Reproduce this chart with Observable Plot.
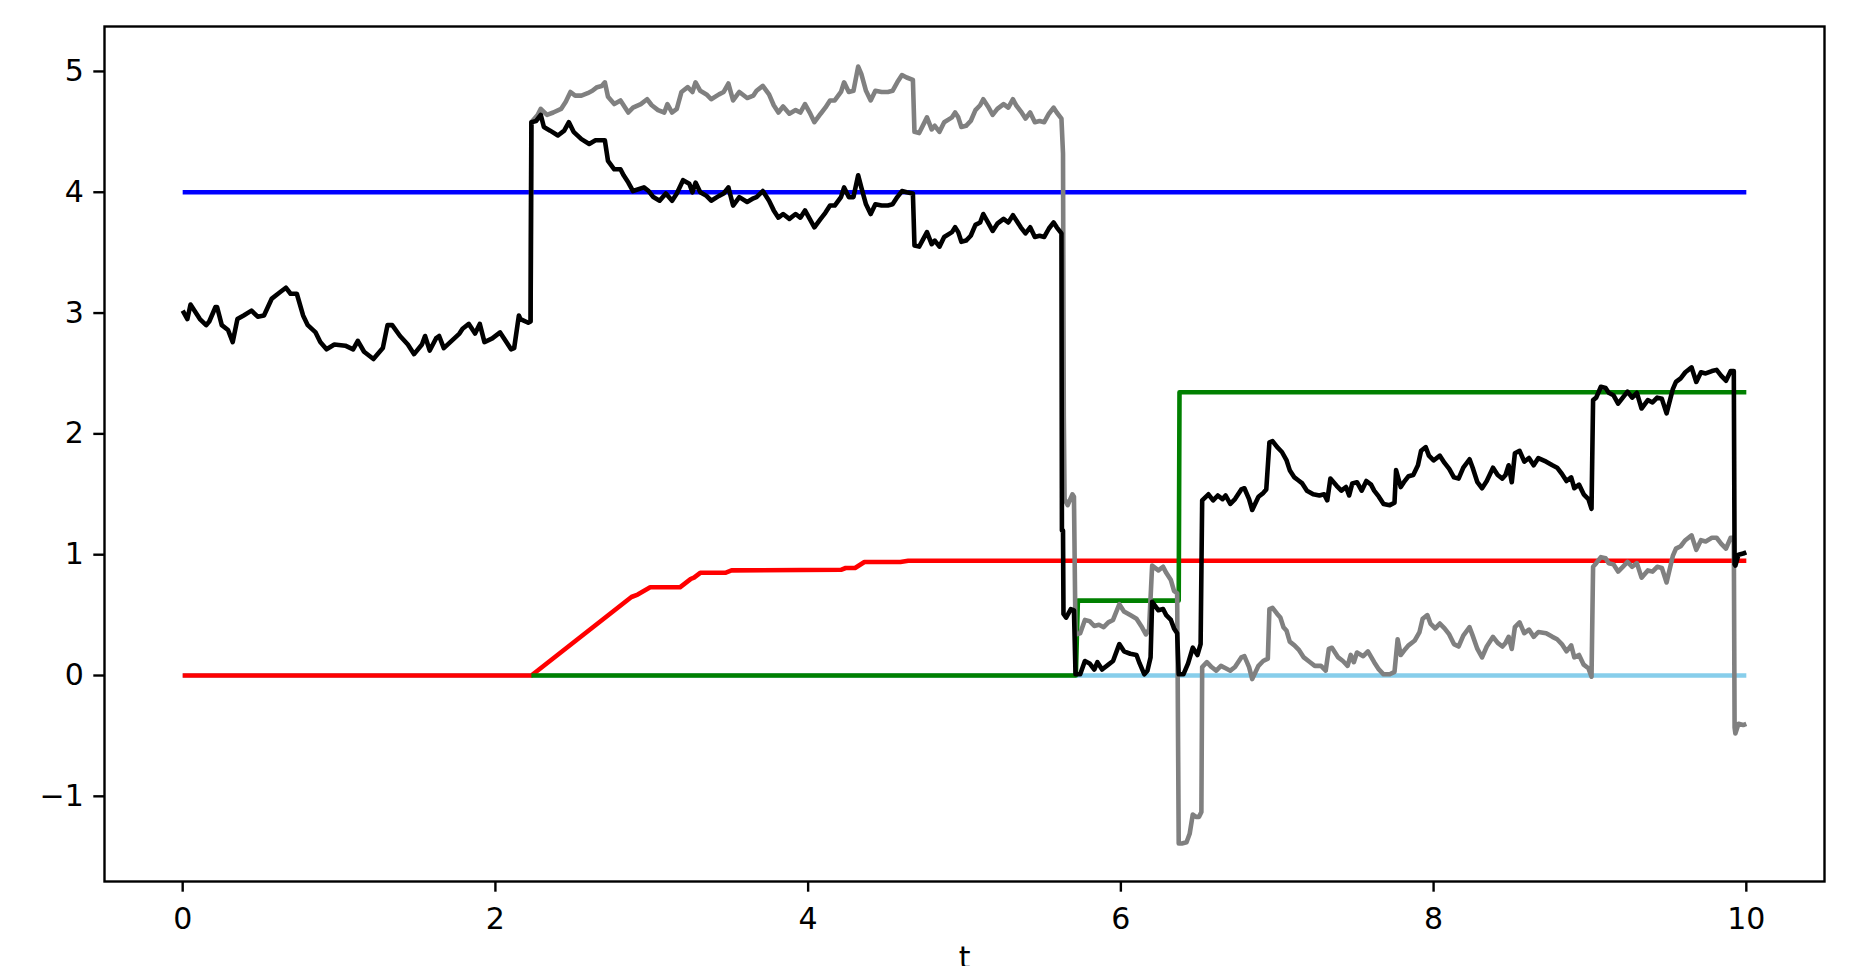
<!DOCTYPE html>
<html>
<head>
<meta charset="utf-8">
<script src="https://cdn.jsdelivr.net/npm/d3@7"></script>
<script src="https://cdn.jsdelivr.net/npm/@observablehq/plot@0.6"></script>
<style>
  html, body { margin: 0; padding: 0; background: #fff; overflow: hidden; }
  #chart svg { display: block; }
  #chart svg text { font-family: "DejaVu Sans", sans-serif; font-size: 30px; }
</style>
</head>
<body>
<div id="chart"></div>
<script>
// ---- data: [t, value] ----
const bluePath = [[0, 4], [10, 4]];
const skybluePath = [[0, 0], [10, 0]];
const redPath = [
  [0, 0], [2.23, 0], [2.87, 0.65], [2.91, 0.67], [2.99, 0.73], [3.18, 0.73], [3.25, 0.80],
  [3.27, 0.81], [3.31, 0.85], [3.47, 0.85], [3.51, 0.87], [4.21, 0.875], [4.24, 0.89],
  [4.30, 0.89], [4.36, 0.94], [4.59, 0.94], [4.64, 0.95], [10, 0.95]
];
const greenPath = [
  [2.23, 0], [5.712, 0], [5.725, 0.62], [6.37, 0.62], [6.375, 2.345], [10, 2.345]
];
const blackPath = [
  [0.00, 3.02], [0.03, 2.95], [0.05, 3.07], [0.08, 3.01], [0.11, 2.95], [0.15, 2.90], [0.17, 2.93],
  [0.21, 3.05], [0.22, 3.05], [0.25, 2.90], [0.29, 2.86], [0.32, 2.76], [0.35, 2.95], [0.39, 2.98],
  [0.44, 3.02], [0.48, 2.97], [0.52, 2.98], [0.57, 3.12], [0.62, 3.17], [0.66, 3.21], [0.69, 3.16],
  [0.73, 3.16], [0.77, 2.98], [0.80, 2.90], [0.85, 2.84], [0.88, 2.76], [0.92, 2.70], [0.97, 2.74],
  [1.04, 2.73], [1.09, 2.70], [1.12, 2.77], [1.16, 2.68], [1.22, 2.62], [1.28, 2.71], [1.31, 2.90],
  [1.34, 2.90], [1.39, 2.81], [1.44, 2.74], [1.48, 2.66], [1.53, 2.74], [1.55, 2.81], [1.58, 2.69],
  [1.62, 2.79], [1.64, 2.81], [1.67, 2.71], [1.72, 2.77], [1.77, 2.83], [1.79, 2.87], [1.83, 2.91],
  [1.87, 2.83], [1.90, 2.91], [1.93, 2.76], [1.98, 2.79], [2.03, 2.84], [2.07, 2.76], [2.10, 2.70],
  [2.12, 2.71], [2.15, 2.98], [2.16, 2.95], [2.21, 2.92], [2.225, 2.93], [2.23, 4.58],
  [2.26, 4.59], [2.29, 4.64], [2.31, 4.54], [2.35, 4.51], [2.40, 4.47], [2.44, 4.51], [2.47, 4.58],
  [2.50, 4.50], [2.55, 4.44], [2.60, 4.40], [2.64, 4.43], [2.67, 4.43], [2.70, 4.43], [2.72, 4.26],
  [2.76, 4.19], [2.80, 4.19], [2.82, 4.14], [2.85, 4.08], [2.88, 4.01], [2.95, 4.04], [2.98, 4.01],
  [3.01, 3.96], [3.05, 3.93], [3.09, 3.99], [3.13, 3.93], [3.16, 3.99], [3.20, 4.10], [3.24, 4.07],
  [3.26, 4.00], [3.28, 4.08], [3.31, 4.00], [3.35, 3.97], [3.38, 3.93], [3.43, 3.97], [3.46, 3.99],
  [3.49, 4.04], [3.52, 3.89], [3.56, 3.96], [3.61, 3.92], [3.65, 3.95], [3.67, 3.96], [3.71, 4.01],
  [3.75, 3.93], [3.78, 3.85], [3.81, 3.79], [3.84, 3.82], [3.88, 3.78], [3.92, 3.82], [3.95, 3.79],
  [3.98, 3.85], [4.01, 3.78], [4.04, 3.71], [4.08, 3.78], [4.11, 3.83], [4.14, 3.89], [4.17, 3.89],
  [4.21, 3.96], [4.23, 4.04], [4.26, 3.96], [4.29, 3.96], [4.32, 4.14], [4.34, 4.04], [4.37, 3.90],
  [4.40, 3.82], [4.43, 3.90], [4.47, 3.89], [4.51, 3.89], [4.54, 3.90], [4.57, 3.96], [4.60, 4.01],
  [4.63, 4.00], [4.67, 3.99], [4.68, 3.56], [4.71, 3.55], [4.76, 3.67], [4.79, 3.57], [4.81, 3.60],
  [4.84, 3.55], [4.87, 3.63], [4.92, 3.67], [4.94, 3.71], [4.96, 3.67], [4.98, 3.59], [5.01, 3.60],
  [5.04, 3.64], [5.07, 3.73], [5.10, 3.75], [5.12, 3.82], [5.15, 3.75], [5.18, 3.68], [5.21, 3.74],
  [5.25, 3.78], [5.28, 3.75], [5.31, 3.81], [5.33, 3.77], [5.36, 3.71], [5.39, 3.66], [5.42, 3.71],
  [5.45, 3.63], [5.48, 3.64], [5.51, 3.63], [5.54, 3.70], [5.57, 3.75], [5.59, 3.71], [5.62, 3.66],
  [5.623, 1.20], [5.63, 1.20], [5.633, 0.51], [5.65, 0.48], [5.68, 0.55], [5.70, 0.54],
  [5.71, 0.01], [5.74, 0.01], [5.77, 0.12], [5.80, 0.10], [5.83, 0.05], [5.85, 0.11], [5.88, 0.05],
  [5.92, 0.09], [5.95, 0.12], [5.99, 0.26], [6.02, 0.20], [6.06, 0.18], [6.10, 0.17], [6.12, 0.10],
  [6.15, 0.01], [6.17, 0.04], [6.19, 0.15], [6.20, 0.61], [6.24, 0.54], [6.27, 0.55], [6.29, 0.50],
  [6.32, 0.46], [6.34, 0.39], [6.36, 0.35], [6.37, 0.01], [6.40, 0.01], [6.43, 0.10], [6.46, 0.23],
  [6.49, 0.17], [6.51, 0.26], [6.52, 1.45], [6.56, 1.50], [6.59, 1.45], [6.62, 1.49], [6.65, 1.46],
  [6.67, 1.49], [6.70, 1.42], [6.73, 1.46], [6.77, 1.54], [6.79, 1.55], [6.82, 1.46], [6.84, 1.37],
  [6.88, 1.48], [6.91, 1.51], [6.93, 1.54], [6.95, 1.93], [6.97, 1.94], [7.00, 1.89], [7.03, 1.85],
  [7.06, 1.78], [7.08, 1.70], [7.11, 1.64], [7.13, 1.62], [7.16, 1.59], [7.19, 1.53], [7.23, 1.50],
  [7.27, 1.49], [7.30, 1.50], [7.32, 1.45], [7.34, 1.63], [7.38, 1.57], [7.41, 1.53], [7.44, 1.56],
  [7.46, 1.49], [7.48, 1.59], [7.51, 1.60], [7.54, 1.53], [7.57, 1.61], [7.60, 1.58], [7.62, 1.53],
  [7.65, 1.48], [7.68, 1.42], [7.72, 1.41], [7.75, 1.43], [7.76, 1.70], [7.79, 1.56], [7.81, 1.60],
  [7.84, 1.65], [7.87, 1.66], [7.90, 1.74], [7.92, 1.86], [7.95, 1.89], [7.97, 1.82], [8.00, 1.78],
  [8.04, 1.82], [8.07, 1.76], [8.10, 1.71], [8.13, 1.64], [8.16, 1.63], [8.19, 1.72], [8.23, 1.79],
  [8.25, 1.72], [8.28, 1.60], [8.31, 1.55], [8.34, 1.61], [8.38, 1.72], [8.41, 1.66], [8.44, 1.63],
  [8.46, 1.66], [8.48, 1.74], [8.50, 1.60], [8.52, 1.84], [8.55, 1.86], [8.58, 1.77], [8.61, 1.80],
  [8.64, 1.74], [8.67, 1.80], [8.72, 1.77], [8.76, 1.74], [8.79, 1.72], [8.82, 1.67], [8.85, 1.61],
  [8.88, 1.64], [8.90, 1.55], [8.93, 1.58], [8.96, 1.50], [8.99, 1.46], [9.01, 1.38], [9.02, 2.28],
  [9.04, 2.30], [9.07, 2.39], [9.10, 2.38], [9.12, 2.34], [9.15, 2.32], [9.18, 2.25], [9.21, 2.30],
  [9.24, 2.35], [9.27, 2.30], [9.30, 2.34], [9.33, 2.21], [9.37, 2.28], [9.40, 2.26], [9.43, 2.30],
  [9.46, 2.29], [9.49, 2.17], [9.53, 2.37], [9.55, 2.43], [9.58, 2.46], [9.61, 2.51], [9.65, 2.55],
  [9.68, 2.43], [9.71, 2.51], [9.74, 2.50], [9.78, 2.52], [9.81, 2.53], [9.84, 2.48], [9.87, 2.44],
  [9.90, 2.52], [9.92, 2.52], [9.925, 0.92], [9.93, 0.91], [9.95, 1.00], [9.98, 1.01], [10.00, 1.02]
];
const grayPath = [
  [2.225, 2.93], [2.23, 4.58], [2.27, 4.64], [2.29, 4.69], [2.33, 4.64], [2.37, 4.66], [2.42, 4.69],
  [2.45, 4.75], [2.48, 4.83], [2.51, 4.80], [2.55, 4.80], [2.59, 4.82], [2.62, 4.84], [2.65, 4.87],
  [2.68, 4.88], [2.70, 4.91], [2.72, 4.79], [2.76, 4.73], [2.80, 4.76], [2.83, 4.70], [2.85, 4.66],
  [2.88, 4.70], [2.93, 4.73], [2.97, 4.77], [3.00, 4.72], [3.04, 4.68], [3.08, 4.66], [3.10, 4.73],
  [3.13, 4.66], [3.16, 4.69], [3.19, 4.83], [3.23, 4.87], [3.26, 4.83], [3.28, 4.91], [3.31, 4.84],
  [3.35, 4.81], [3.38, 4.77], [3.43, 4.81], [3.46, 4.83], [3.49, 4.90], [3.52, 4.76], [3.56, 4.83],
  [3.61, 4.78], [3.65, 4.80], [3.67, 4.84], [3.71, 4.88], [3.75, 4.81], [3.78, 4.72], [3.81, 4.66],
  [3.84, 4.71], [3.88, 4.65], [3.92, 4.68], [3.95, 4.66], [3.98, 4.73], [4.01, 4.66], [4.04, 4.58],
  [4.08, 4.65], [4.11, 4.70], [4.14, 4.76], [4.17, 4.76], [4.21, 4.83], [4.23, 4.91], [4.26, 4.83],
  [4.29, 4.84], [4.32, 5.04], [4.34, 4.98], [4.37, 4.84], [4.40, 4.76], [4.43, 4.84], [4.47, 4.83],
  [4.51, 4.83], [4.54, 4.84], [4.57, 4.91], [4.60, 4.97], [4.63, 4.95], [4.67, 4.93], [4.68, 4.50],
  [4.71, 4.49], [4.76, 4.62], [4.79, 4.52], [4.81, 4.55], [4.84, 4.50], [4.87, 4.58], [4.92, 4.62],
  [4.94, 4.66], [4.96, 4.62], [4.98, 4.54], [5.01, 4.55], [5.04, 4.59], [5.07, 4.68], [5.10, 4.72],
  [5.12, 4.77], [5.15, 4.71], [5.18, 4.64], [5.21, 4.69], [5.25, 4.73], [5.28, 4.70], [5.31, 4.77],
  [5.33, 4.72], [5.36, 4.67], [5.39, 4.61], [5.42, 4.66], [5.45, 4.58], [5.48, 4.59], [5.51, 4.58],
  [5.54, 4.65], [5.57, 4.70], [5.59, 4.66], [5.62, 4.61], [5.63, 4.32], [5.635, 2.15], [5.64, 1.46],
  [5.66, 1.41], [5.69, 1.50], [5.70, 1.48], [5.71, 0.34], [5.74, 0.35], [5.77, 0.46], [5.80, 0.45],
  [5.83, 0.41], [5.86, 0.42], [5.89, 0.40], [5.92, 0.44], [5.95, 0.46], [5.99, 0.59], [6.02, 0.53],
  [6.06, 0.50], [6.10, 0.47], [6.13, 0.41], [6.16, 0.34], [6.18, 0.38], [6.20, 0.91], [6.24, 0.87],
  [6.27, 0.90], [6.29, 0.85], [6.32, 0.79], [6.34, 0.70], [6.36, 0.68], [6.37, -1.39], [6.39, -1.39],
  [6.42, -1.38], [6.44, -1.31], [6.46, -1.15], [6.48, -1.17], [6.50, -1.17], [6.515, -1.13],
  [6.52, 0.07], [6.55, 0.11], [6.58, 0.07], [6.61, 0.04], [6.64, 0.08], [6.67, 0.06], [6.70, 0.04],
  [6.73, 0.07], [6.77, 0.15], [6.79, 0.16], [6.82, 0.07], [6.84, -0.03], [6.88, 0.08], [6.91, 0.12],
  [6.94, 0.14], [6.95, 0.55], [6.97, 0.56], [7.00, 0.51], [7.02, 0.48], [7.04, 0.40], [7.06, 0.37],
  [7.08, 0.28], [7.11, 0.25], [7.14, 0.21], [7.17, 0.15], [7.21, 0.11], [7.24, 0.08], [7.28, 0.08],
  [7.31, 0.04], [7.33, 0.22], [7.35, 0.23], [7.39, 0.15], [7.42, 0.12], [7.45, 0.08], [7.47, 0.17],
  [7.49, 0.11], [7.51, 0.19], [7.55, 0.16], [7.58, 0.20], [7.62, 0.11], [7.65, 0.05], [7.68, 0.01],
  [7.72, 0.01], [7.75, 0.03], [7.77, 0.30], [7.79, 0.17], [7.82, 0.22], [7.84, 0.25], [7.88, 0.29],
  [7.91, 0.36], [7.93, 0.47], [7.96, 0.50], [7.98, 0.43], [8.01, 0.39], [8.04, 0.43], [8.07, 0.39],
  [8.10, 0.34], [8.13, 0.26], [8.16, 0.24], [8.19, 0.33], [8.23, 0.40], [8.25, 0.33], [8.28, 0.22],
  [8.31, 0.15], [8.34, 0.24], [8.38, 0.32], [8.41, 0.27], [8.44, 0.24], [8.46, 0.27], [8.48, 0.32],
  [8.50, 0.22], [8.52, 0.40], [8.55, 0.44], [8.58, 0.35], [8.61, 0.38], [8.64, 0.32], [8.67, 0.36],
  [8.72, 0.35], [8.76, 0.32], [8.79, 0.30], [8.82, 0.26], [8.85, 0.20], [8.88, 0.25], [8.90, 0.15],
  [8.93, 0.17], [8.96, 0.09], [8.99, 0.06], [9.01, -0.01], [9.02, 0.90], [9.04, 0.93], [9.07, 0.98],
  [9.10, 0.97], [9.12, 0.93], [9.15, 0.92], [9.18, 0.86], [9.21, 0.90], [9.24, 0.94], [9.27, 0.90],
  [9.30, 0.93], [9.33, 0.81], [9.37, 0.87], [9.40, 0.86], [9.43, 0.90], [9.46, 0.89], [9.49, 0.77],
  [9.53, 0.99], [9.55, 1.05], [9.58, 1.07], [9.61, 1.12], [9.65, 1.16], [9.68, 1.04], [9.71, 1.12],
  [9.74, 1.11], [9.78, 1.14], [9.81, 1.14], [9.84, 1.09], [9.87, 1.05], [9.90, 1.14], [9.92, 1.14],
  [9.925, -0.43], [9.93, -0.48], [9.95, -0.40], [9.98, -0.41], [10.00, -0.40]
];
const xTicks = [0, 2, 4, 6, 8, 10];
const yTicks = [-1, 0, 1, 2, 3, 4, 5];
const xLabel = ["t"];

// ---- chart ----
const rows = (arr) => arr.map(([t, v]) => ({t, v}));
const LW = 4.6;
const lineOpts = (color) => ({x: "t", y: "v", stroke: color, strokeWidth: LW, strokeLinejoin: "round", strokeLinecap: "butt"});

const chart = Plot.plot({
  width: 1856,
  height: 966,
  marginLeft: 104,
  marginRight: 32,
  marginTop: 26,
  marginBottom: 85,
  style: {fontFamily: "'DejaVu Sans', sans-serif", fontSize: "30px", background: "#fff", color: "#000", overflow: "visible"},
  x: {domain: [-0.5, 10.5]},
  y: {domain: [-1.705, 5.372]},
  marks: [
    Plot.line(rows(bluePath), lineOpts("#0000ff")),
    Plot.line(rows(skybluePath), lineOpts("#87ceeb")),
    Plot.line(rows(redPath), lineOpts("#ff0000")),
    Plot.line(rows(greenPath), lineOpts("#008000")),
    Plot.line(rows(grayPath), lineOpts("#808080")),
    Plot.line(rows(blackPath), lineOpts("#000000")),
    Plot.frame({stroke: "#000", strokeWidth: 2.4}),
    Plot.axisX({ticks: xTicks, tickSize: 10.7, tickPadding: 15, strokeWidth: 2.4, fontSize: 30, label: null}),
    Plot.axisY({ticks: yTicks, tickSize: 10.7, tickPadding: 10, strokeWidth: 2.4, fontSize: 30, label: null}),
    Plot.text(xLabel, {text: (d) => d, frameAnchor: "bottom", lineAnchor: "top", dy: 65, fontSize: 30})
  ]
});
document.getElementById("chart").appendChild(chart);
</script>
</body>
</html>
